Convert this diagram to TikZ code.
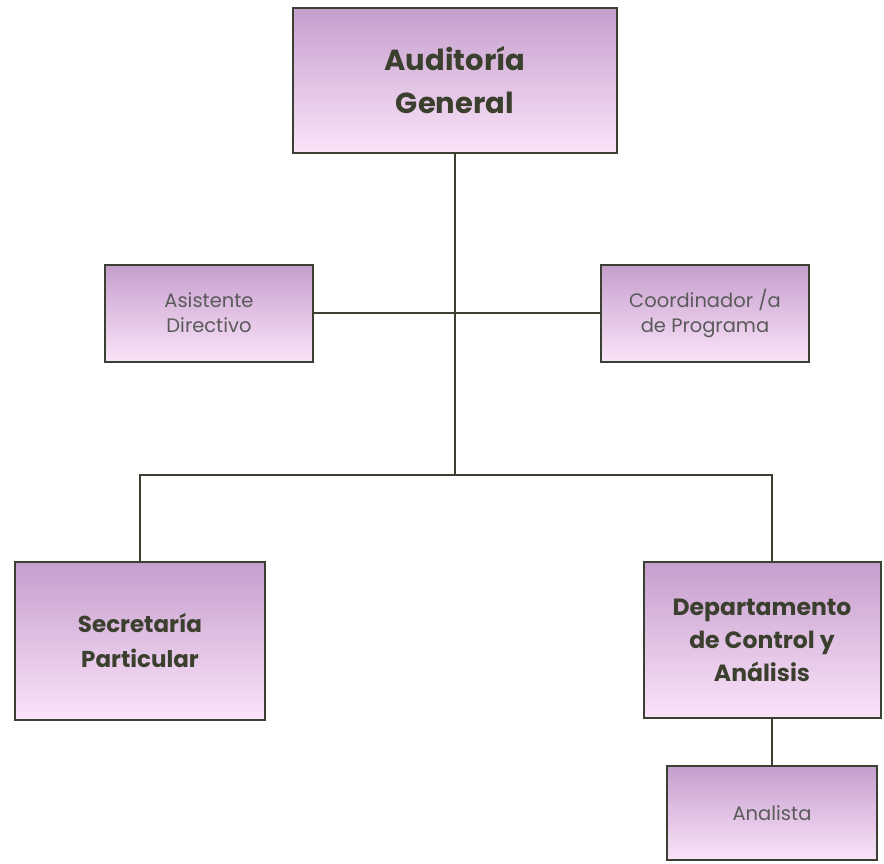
\documentclass[tikz,border=0pt]{standalone}
\usepackage{fontspec}
\setmainfont{Poppins}
\usetikzlibrary{positioning,calc}
\definecolor{boxtop}{HTML}{C69ECD}
\definecolor{boxbot}{HTML}{FAE4F9}
\definecolor{edge}{HTML}{3A4032}
\definecolor{ink}{HTML}{3B3F2E}
\definecolor{softink}{HTML}{5A5A5A}
\tikzset{
unit/.style={
  rectangle,
  draw=edge,
  line width=2pt,
  top color=boxtop,
  bottom color=boxbot,
  align=center,
  inner sep=0pt
  },
headunit/.style={unit, text=ink, font=\fontsize{29}{43}\selectfont\bfseries},
staffunit/.style={unit, text=softink, font=\fontsize{19.5}{25}\selectfont},
link/.style={draw=edge, line width=2.2pt}
}

\begin{document}
\begin{tikzpicture}[x=1pt,y=-1pt]
    \useasboundingbox (0,0) rectangle (884,863);
    % top
    \node [headunit, minimum width=324pt, minimum height=145pt] (aud) at (455,80) {Auditoría\\General};
    % staff
    \node [staffunit, minimum width=208pt, minimum height=97pt] (asis) at (209,313) {Asistente\\Directivo};
    \node [staffunit, minimum width=208pt, minimum height=97pt] (coord) at (705,313) {Coordinador /a\\de Programa};
    % departments
    \node [headunit, font=\fontsize{23}{35}\selectfont\bfseries, minimum width=250pt, minimum height=158pt] (sec) at (140,641) {Secretaría\\Particular};
    \node [headunit, font=\fontsize{23.5}{33}\selectfont\bfseries, minimum width=237pt, minimum height=156pt] (dep) at (762,640) {Departamento\\de Control y\\Análisis};
    \node [staffunit, minimum width=210pt, minimum height=94pt] (ana) at (772,813) {Analista};

    \coordinate (bus) at (455,475);
    \draw [link] (aud.south) -- (bus);
    \draw [link] (asis.east) -- (coord.west);
    \draw [link] (sec.north) |- (bus) -| (dep.north -| ana.north);
    \draw [link] (dep.south -| ana.north) -- (ana.north);
\end{tikzpicture}
\end{document}
